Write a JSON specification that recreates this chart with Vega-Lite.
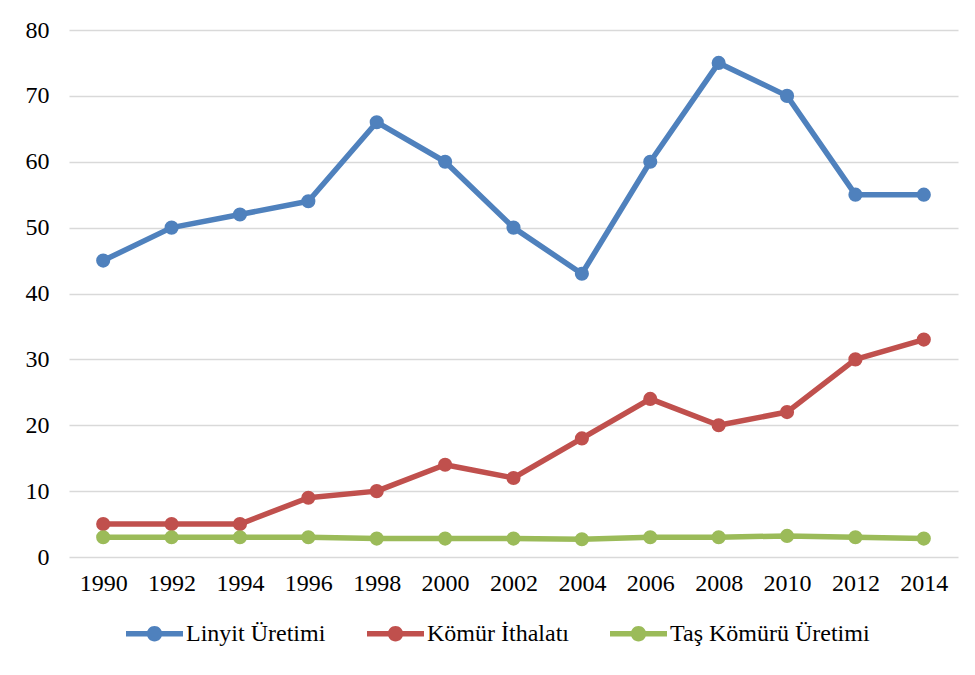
{
  "$schema": "https://vega.github.io/schema/vega-lite/v6.json",
  "width": 889,
  "height": 527,
  "autosize": {"type": "none"},
  "padding": {"left": 69, "top": 30, "right": 17, "bottom": 118},
  "background": "white",
  "config": {
    "font": "'Liberation Serif', serif",
    "view": {"stroke": null},
    "axis": {"labelFont": "'Liberation Serif', serif", "labelFontSize": 24, "labelColor": "#000000"},
    "legend": {"labelFont": "Times, 'Times New Roman'", "labelFontSize": 24, "labelColor": "#000000", "labelLimit": 400}
  },
  "data": {
    "values": [
      {"year": "1990", "series": "Linyit Üretimi", "value": 45},
      {"year": "1992", "series": "Linyit Üretimi", "value": 50},
      {"year": "1994", "series": "Linyit Üretimi", "value": 52},
      {"year": "1996", "series": "Linyit Üretimi", "value": 54},
      {"year": "1998", "series": "Linyit Üretimi", "value": 66},
      {"year": "2000", "series": "Linyit Üretimi", "value": 60},
      {"year": "2002", "series": "Linyit Üretimi", "value": 50},
      {"year": "2004", "series": "Linyit Üretimi", "value": 43},
      {"year": "2006", "series": "Linyit Üretimi", "value": 60},
      {"year": "2008", "series": "Linyit Üretimi", "value": 75},
      {"year": "2010", "series": "Linyit Üretimi", "value": 70},
      {"year": "2012", "series": "Linyit Üretimi", "value": 55},
      {"year": "2014", "series": "Linyit Üretimi", "value": 55},
      {"year": "1990", "series": "Kömür İthalatı", "value": 5},
      {"year": "1992", "series": "Kömür İthalatı", "value": 5},
      {"year": "1994", "series": "Kömür İthalatı", "value": 5},
      {"year": "1996", "series": "Kömür İthalatı", "value": 9},
      {"year": "1998", "series": "Kömür İthalatı", "value": 10},
      {"year": "2000", "series": "Kömür İthalatı", "value": 14},
      {"year": "2002", "series": "Kömür İthalatı", "value": 12},
      {"year": "2004", "series": "Kömür İthalatı", "value": 18},
      {"year": "2006", "series": "Kömür İthalatı", "value": 24},
      {"year": "2008", "series": "Kömür İthalatı", "value": 20},
      {"year": "2010", "series": "Kömür İthalatı", "value": 22},
      {"year": "2012", "series": "Kömür İthalatı", "value": 30},
      {"year": "2014", "series": "Kömür İthalatı", "value": 33},
      {"year": "1990", "series": "Taş Kömürü Üretimi", "value": 3},
      {"year": "1992", "series": "Taş Kömürü Üretimi", "value": 3},
      {"year": "1994", "series": "Taş Kömürü Üretimi", "value": 3},
      {"year": "1996", "series": "Taş Kömürü Üretimi", "value": 3},
      {"year": "1998", "series": "Taş Kömürü Üretimi", "value": 2.8},
      {"year": "2000", "series": "Taş Kömürü Üretimi", "value": 2.8},
      {"year": "2002", "series": "Taş Kömürü Üretimi", "value": 2.8},
      {"year": "2004", "series": "Taş Kömürü Üretimi", "value": 2.7},
      {"year": "2006", "series": "Taş Kömürü Üretimi", "value": 3},
      {"year": "2008", "series": "Taş Kömürü Üretimi", "value": 3},
      {"year": "2010", "series": "Taş Kömürü Üretimi", "value": 3.2},
      {"year": "2012", "series": "Taş Kömürü Üretimi", "value": 3},
      {"year": "2014", "series": "Taş Kömürü Üretimi", "value": 2.8}
    ]
  },
  "encoding": {
    "x": {
      "field": "year", "type": "ordinal",
      "scale": {"type": "point", "padding": 0.5},
      "axis": {"title": null, "labelAngle": 0, "domain": false, "ticks": false, "labelPadding": 14, "grid": false}
    },
    "y": {
      "field": "value", "type": "quantitative",
      "scale": {"domain": [0, 80], "nice": false},
      "axis": {"title": null, "values": [0, 10, 20, 30, 40, 50, 60, 70, 80], "domain": false, "ticks": false, "labelPadding": 20, "grid": true, "gridColor": "#d9d9d9", "gridWidth": 1.5}
    },
    "color": {
      "field": "series", "type": "nominal",
      "scale": {"domain": ["Linyit Üretimi", "Kömür İthalatı", "Taş Kömürü Üretimi"], "range": ["#4f81bd", "#c0504d", "#9bbb59"]},
      "legend": {
        "title": null, "orient": "none", "direction": "horizontal",
        "legendX": 57, "legendY": 575,
        "symbolType": "M-1,-0.1L1,-0.1L1,0.1L-1,0.1Z M0.27,0 A0.27,0.27 0 1,1 -0.27,0 A0.27,0.27 0 1,1 0.27,0 Z",
        "symbolSize": 3249,
        "symbolStrokeWidth": 0,
        "labelOffset": 3,
        "columnPadding": 41,
        "encode": {"symbols": {"update": {"fill": {"scale": "color", "field": "value"}, "stroke": {"value": "transparent"}, "opacity": {"value": 1}}}}
      }
    }
  },
  "layer": [
    {"mark": {"type": "line", "strokeWidth": 5.5, "strokeCap": "round", "strokeJoin": "round"}},
    {"mark": {"type": "point", "filled": true, "size": 200, "opacity": 1}}
  ]
}
